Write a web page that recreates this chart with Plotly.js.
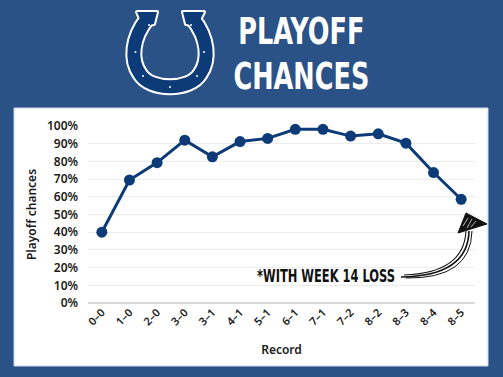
<!DOCTYPE html>
<html>
<head>
<meta charset="utf-8">
<script src="https://cdn.plot.ly/plotly-3.0.1.min.js"></script>
<style>html,body{margin:0;padding:0;background:#2b5287;} #chart{width:503px;height:377px;}</style>
</head>
<body>
<div id="chart"></div>
<script>
// ---- data ----
const records = ["0–0","1–0","2–0","3–0","3–1","4–1","5–1","6–1","7–1","7–2","8–2","8–3","8–4","8–5"];
const playoffChances = [40, 69.5, 79.3, 92, 82.6, 91.2, 93, 98.1, 98.1, 94.3, 95.6, 90.3, 73.7, 58.6];
const yTickValues = [0, 10, 20, 30, 40, 50, 60, 70, 80, 90, 100];
const yTickLabels = ["0%", "10%", "20%", "30%", "40%", "50%", "60%", "70%", "80%", "90%", "100%"];
const titleLines = ["PLAYOFF", "CHANCES"];
const noteText = "*WITH WEEK 14 LOSS";

// ---- layout helpers (pixel -> paper) ----
const W = 503, H = 377, ML = 88, MR = 28, MT = 126, MB = 74;
const PW = W - ML - MR, PH = H - MT - MB;
const px = x => (x - ML) / PW;
const py = y => (H - MB - y) / PH;

const navy = "#0d3b77";
const condensed = "DejaVu Sans Condensed, DejaVu Sans, Liberation Sans, sans-serif";
const body = "Noto Sans, Inter, sans-serif";

const hs = "M147 19 C132 38 130 60 140 74 C150 91 190 91 200 74 C210 60 208 38 193 19";
const tipL = "M137 12 L157 12 L154 24 L143 26 Z";
const tipR = "M183 12 L204 12 L197 26 L186 24 Z";
const logoSvg =
 '<svg xmlns="http://www.w3.org/2000/svg" viewBox="120 5 100 100" width="100" height="100">' +
 '<path d="' + hs + '" fill="none" stroke="#ffffff" stroke-width="17"/>' +
 '<path d="' + tipL + '" fill="#ffffff" stroke="#ffffff" stroke-width="4" stroke-linejoin="round"/>' +
 '<path d="' + tipR + '" fill="#ffffff" stroke="#ffffff" stroke-width="4" stroke-linejoin="round"/>' +
 '<path d="' + hs + '" fill="none" stroke="' + navy + '" stroke-width="13"/>' +
 '<path d="' + tipL + '" fill="' + navy + '"/>' +
 '<path d="' + tipR + '" fill="' + navy + '"/>' +
 '<g fill="#ffffff">' +
 '<circle cx="149" cy="25" r="1"/><circle cx="191" cy="25" r="1"/>' +
 '<circle cx="135.5" cy="52" r="1"/><circle cx="204" cy="52" r="1"/>' +
 '<circle cx="143" cy="76" r="1"/><circle cx="197" cy="76" r="1"/>' +
 '<circle cx="170" cy="87" r="1"/>' +
 '</g></svg>';
const logoUri = "data:image/svg+xml;charset=utf-8," + encodeURIComponent(logoSvg);

function pathFromPixels(cmds) {
  return cmds.map(c => {
    const L = c[0]; const pts = [];
    for (let i = 1; i < c.length; i += 2) pts.push(px(c[i]).toFixed(4) + "," + py(c[i+1]).toFixed(4));
    return L + pts.join(" ");
  }).join(" ");
}

const trace = {
  x: records,
  y: playoffChances,
  type: "scatter",
  mode: "lines+markers",
  line: {color: navy, width: 3},
  marker: {color: navy, size: 11},
  cliponaxis: false,
  hoverinfo: "x+y"
};

const shapes = [
  {type: "rect", xref: "paper", yref: "paper", layer: "below",
   x0: px(14), x1: px(488), y0: py(366), y1: py(108),
   fillcolor: "#ffffff", line: {color: "#c9d5e6", width: 1}},
  {type: "path", xref: "paper", yref: "paper", layer: "above",
   path: pathFromPixels([["M",401,277],["Q",468,276,469,231]]),
   line: {color: "#111111", width: 1.6}},
  {type: "path", xref: "paper", yref: "paper", layer: "above",
   path: pathFromPixels([["M",404,275],["Q",464,273,466,231]]),
   line: {color: "#111111", width: 1.1}},
  {type: "path", xref: "paper", yref: "paper", layer: "above",
   path: pathFromPixels([["M",406,278],["Q",471,279,472,231]]),
   line: {color: "#111111", width: 1}},
  {type: "path", xref: "paper", yref: "paper", layer: "above",
   path: pathFromPixels([["M",458,233],["L",466,213],["L",487,224],["Z"]]),
   fillcolor: "#111111", line: {color: "#111111", width: 1}},
  {type: "path", xref: "paper", yref: "paper", layer: "above",
   path: pathFromPixels([["M",463,226],["L",468,218],["M",467,228],["L",472,219],["M",471,227],["L",476,221]]),
   line: {color: "#ffffff", width: 0.7}}
];

// fit specs: [target width px, vertical scale, line advance in em (for multi-line)]
const fitSpecs = [[136, 1.12, 1.185], [138, 1.0, 0]];
const annotations = [
  {xref: "paper", yref: "paper", x: px(301), y: py(53), xanchor: "center", yanchor: "middle",
   text: titleLines.join("<br>"), showarrow: false, align: "center",
   font: {family: condensed, size: 34, color: "#ffffff", weight: 700}},
  {xref: "paper", yref: "paper", x: px(326), y: py(276), xanchor: "center", yanchor: "middle",
   text: noteText, showarrow: false,
   font: {family: condensed, size: 17, color: "#111111", weight: 700}}
];

const layout = {
  width: W, height: H,
  margin: {l: ML, r: MR, t: MT, b: MB, pad: 0},
  paper_bgcolor: "#2b5287",
  plot_bgcolor: "rgba(0,0,0,0)",
  showlegend: false,
  font: {family: body, color: "#1a1a1a"},
  xaxis: {
    type: "category",
    range: [-0.5, records.length - 0.5],
    tickangle: -45,
    tickfont: {family: body, size: 11, weight: 600, color: "#1a1a1a"},
    showgrid: false, zeroline: false, showline: false,
    ticks: "", fixedrange: true,
    title: {text: "Record", standoff: 18, font: {family: body, size: 12, weight: 600, color: "#1a1a1a"}}
  },
  yaxis: {
    range: [0, 100],
    tickmode: "array",
    tickvals: yTickValues,
    ticktext: yTickLabels,
    tickfont: {family: body, size: 12, weight: 600, color: "#1a1a1a"},
    showgrid: true, gridcolor: "#ebebeb", gridwidth: 1,
    zeroline: true, zerolinecolor: "#d9d9d9", zerolinewidth: 1.5,
    showline: false, ticks: "", ticklabelstandoff: 9, fixedrange: true,
    title: {text: "Playoff chances", standoff: 7, font: {family: body, size: 12, weight: 600, color: "#1a1a1a"}}
  },
  shapes: shapes,
  annotations: annotations,
  images: [{source: logoUri, xref: "paper", yref: "paper",
            x: px(120), y: py(5), sizex: 100 / PW, sizey: 100 / PH,
            xanchor: "left", yanchor: "top", sizing: "stretch", layer: "above"}]
};

Plotly.newPlot("chart", [trace], layout, {displayModeBar: false, staticPlot: true}).then(gd => {
  // condense the headline-font texts to mimic a compressed display face
  const groups = gd.querySelectorAll(".annotation");
  groups.forEach((g, i) => {
    const spec = fitSpecs[i];
    if (!spec) return;
    const t = g.querySelector("text.annotation-text");
    if (!t) return;
    const b0 = t.getBBox();
    const cx0 = b0.x + b0.width / 2, cy0 = b0.y + b0.height / 2;
    if (spec[2]) {
      t.querySelectorAll("tspan.line").forEach((ts, k) => {
        if (k > 0) ts.setAttribute("dy", (spec[2] * k) + "em");
      });
    }
    const b = t.getBBox();
    const cx = b.x + b.width / 2, cy = b.y + b.height / 2;
    const sx = spec[0] / b.width, sy = spec[1];
    t.setAttribute("transform",
      "translate(" + cx0 + "," + cy0 + ") scale(" + sx + "," + sy + ") translate(" + (-cx) + "," + (-cy) + ")");
  });
});
</script>
</body>
</html>
